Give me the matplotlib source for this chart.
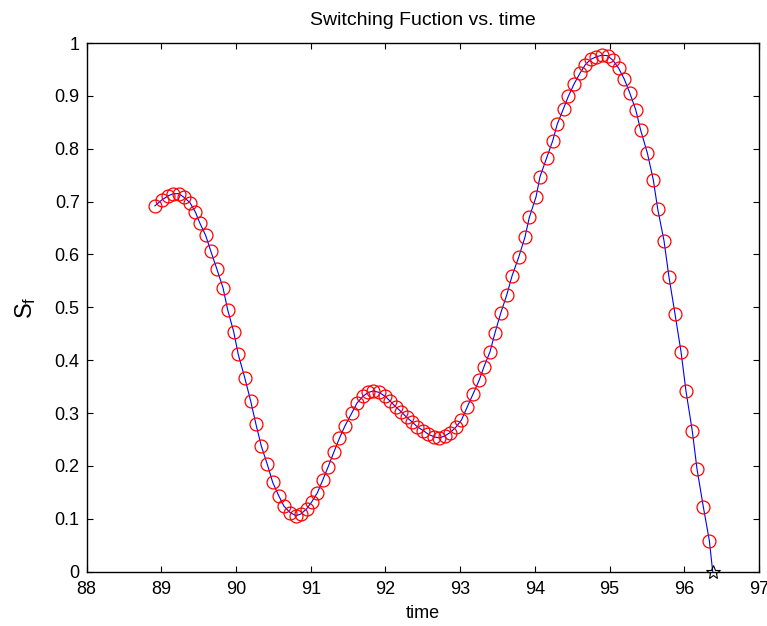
# switching_plot.py
# switching function S_f against time, red circles on blue line, star at zero crossing

import matplotlib
matplotlib.use("Agg")
import matplotlib.pyplot as plt

plt.rcParams['font.family'] = ['Liberation Sans', 'DejaVu Sans']
plt.rcParams['mathtext.default'] = 'regular'

# ----- data
time_vals = [88.914, 89.004, 89.092, 89.159, 89.236, 89.303, 89.383, 89.456, 89.513, 89.593,
             89.660, 89.744, 89.825, 89.888, 89.968, 90.029, 90.116, 90.195, 90.266, 90.337,
             90.418, 90.490, 90.570, 90.641, 90.722, 90.802, 90.865, 90.945, 91.012, 91.087,
             91.159, 91.234, 91.311, 91.382, 91.458, 91.548, 91.619, 91.699, 91.770, 91.837,
             91.917, 91.993, 92.060, 92.137, 92.207, 92.284, 92.351, 92.426, 92.506, 92.573,
             92.653, 92.720, 92.797, 92.863, 92.940, 93.017, 93.095, 93.175, 93.256, 93.319,
             93.399, 93.466, 93.542, 93.622, 93.693, 93.783, 93.867, 93.925, 94.015, 94.068,
             94.158, 94.238, 94.300, 94.383, 94.447, 94.526, 94.604, 94.675, 94.748, 94.822,
             94.901, 94.972, 95.046, 95.122, 95.195, 95.269, 95.351, 95.414, 95.505, 95.585,
             95.644, 95.728, 95.795, 95.876, 95.956, 96.023, 96.107, 96.170, 96.254, 96.335]
sf_vals = [0.692, 0.703, 0.711, 0.715, 0.715, 0.708, 0.698, 0.680, 0.660, 0.636,
           0.607, 0.572, 0.537, 0.495, 0.454, 0.411, 0.367, 0.323, 0.279, 0.238,
           0.203, 0.169, 0.144, 0.124, 0.112, 0.106, 0.109, 0.119, 0.132, 0.149,
           0.173, 0.199, 0.227, 0.252, 0.276, 0.300, 0.319, 0.332, 0.339, 0.342,
           0.339, 0.332, 0.323, 0.312, 0.303, 0.292, 0.284, 0.274, 0.267, 0.260,
           0.255, 0.253, 0.257, 0.263, 0.273, 0.287, 0.312, 0.337, 0.363, 0.388,
           0.416, 0.452, 0.489, 0.523, 0.559, 0.595, 0.633, 0.670, 0.709, 0.747,
           0.783, 0.815, 0.847, 0.876, 0.899, 0.923, 0.943, 0.959, 0.969, 0.974,
           0.977, 0.976, 0.967, 0.952, 0.932, 0.906, 0.873, 0.836, 0.792, 0.741,
           0.686, 0.626, 0.557, 0.487, 0.416, 0.341, 0.266, 0.194, 0.123, 0.059]
# zero crossing (event)
t_event = 96.380
sf_event = 0.0

x_ticks = [88, 89, 90, 91, 92, 93, 94, 95, 96, 97]
y_ticks = [0, 0.1, 0.2, 0.3, 0.4, 0.5, 0.6, 0.7, 0.8, 0.9, 1]
y_tick_labels = ['0', '0.1', '0.2', '0.3', '0.4', '0.5', '0.6', '0.7', '0.8', '0.9', '1']

# ----- plotting
fig = plt.figure(figsize=(7.67, 6.26), dpi=100)
ax = fig.add_axes([0.1130, 0.0867, 0.8766, 0.8446])

ax.plot(time_vals + [t_event], sf_vals + [sf_event], '-', color='#0000ff', lw=0.8, zorder=2)
ax.plot(time_vals, sf_vals, 'o', mfc='none', mec='#ff0000', ms=9.3, mew=0.9, zorder=3)
ax.plot([t_event], [sf_event], '*', mfc='none', mec='black', ms=10, mew=0.8,
        clip_on=False, zorder=4)

ax.set_xlim(88, 97)
ax.set_ylim(0, 1)
ax.set_xticks(x_ticks)
ax.set_yticks(y_ticks)
ax.set_yticklabels(y_tick_labels)
ax.tick_params(direction='in', top=True, right=True, length=4, width=0.8,
               labelsize=13, colors='black')
ax.tick_params(axis='x', pad=7)
ax.tick_params(axis='y', pad=5)
for sp in ax.spines.values():
    sp.set_linewidth(1.0)

ax.set_title("Switching Fuction vs. time", fontsize=14, pad=13)
ax.set_xlabel("time", fontsize=13, labelpad=5)
ax.set_ylabel("S$_f$", fontsize=17, labelpad=12)

plt.savefig('out.png', dpi=100)
